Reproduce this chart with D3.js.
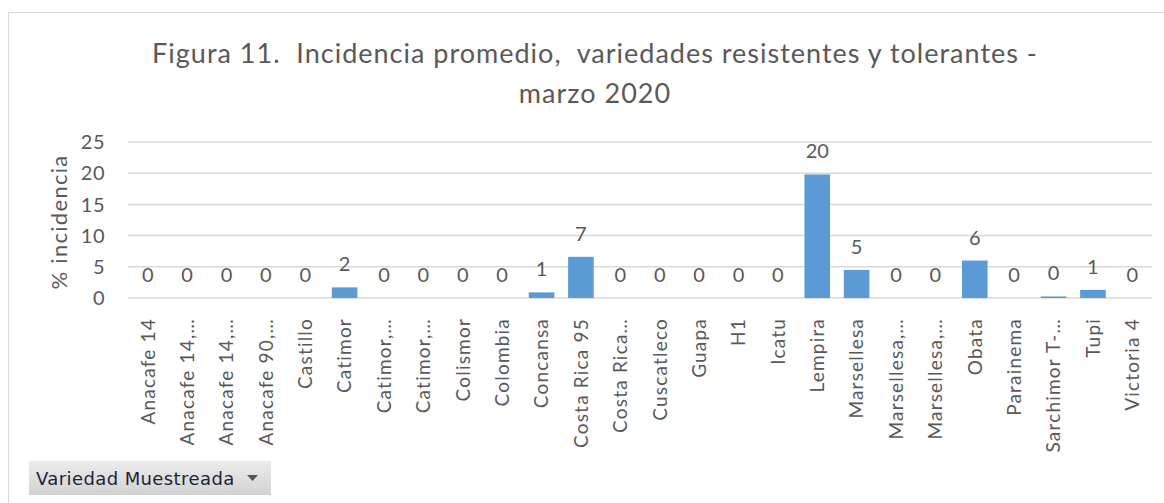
<!DOCTYPE html>
<html>
    <head>
        <style>
            body { margin: 0; background: #fff; }
            svg text { font-family: Lato, "Open Sans", sans-serif; fill: #595959; }
        </style>
    </head>
    <body>
        <svg></svg>

        <script src="https://d3js.org/d3.v7.min.js"></script>

        <script>
            const categories = ["Anacafe 14", "Anacafe 14,\u2026", "Anacafe 14,\u2026", "Anacafe 90,\u2026", "Castillo",
                "Catimor", "Catimor,\u2026", "Catimor,\u2026", "Colismor", "Colombia", "Concansa", "Costa Rica 95",
                "Costa Rica\u2026", "Cuscatleco", "Guapa", "H1", "Icatu", "Lempira", "Marsellesa",
                "Marsellesa,\u2026", "Marsellesa,\u2026", "Obata", "Parainema", "Sarchimor T-\u2026", "Tupi", "Victoria 4"];

            const values = [0, 0, 0, 0, 0, 1.7, 0, 0, 0, 0, 0.9, 6.6,
                0, 0, 0, 0, 0, 19.8, 4.5, 0, 0, 6.0, 0, 0.25, 1.3, 0];

            const yTicks = [0, 5, 10, 15, 20, 25];

            const titleLines = ["Figura 11.  Incidencia promedio,  variedades resistentes y tolerantes -", "marzo 2020"];

            const width = 1164,
                height = 503;

            const svg = d3.select("svg")
                        .attr("width", width)
                        .attr("height", height);

            // chart frame (only top and left edges are visible)
            svg.append("rect")
                .attr("x", 8.5).attr("y", 12.5)
                .attr("width", 1200).attr("height", 600)
                .attr("fill", "none")
                .attr("stroke", "#d9d9d9");

            const x = d3.scaleBand()
                        .domain(d3.range(categories.length))
                        .range([128, 1152])
                        .paddingInner(0.35)
                        .paddingOuter(0.175);

            const y = d3.scaleLinear()
                        .domain([0, 25])
                        .range([298, 142]);

            // gridlines
            svg.append("g")
                .selectAll("line")
                .data(yTicks)
                .enter()
                .append("line")
                .attr("x1", 128).attr("x2", 1152)
                .attr("y1", d => y(d)).attr("y2", d => y(d))
                .attr("stroke", "#d9d9d9")
                .attr("stroke-width", 1.5);

            // y tick labels
            svg.append("g")
                .selectAll("text")
                .data(yTicks)
                .enter()
                .append("text")
                .attr("x", 105)
                .attr("y", d => y(d))
                .attr("dy", "0.36em")
                .attr("text-anchor", "end")
                .style("font-size", "20px")
                .style("letter-spacing", "0.5px")
                .text(d => d);

            // y title
            svg.append("text")
                .attr("transform", "translate(67,222) rotate(-90)")
                .attr("text-anchor", "middle")
                .style("font-size", "22px")
                .style("letter-spacing", "1.3px")
                .text("% incidencia");

            // bars
            svg.append("g")
                .selectAll("rect")
                .data(values)
                .enter()
                .append("rect")
                .attr("x", (d, i) => x(i))
                .attr("y", d => y(d))
                .attr("width", x.bandwidth())
                .attr("height", d => y(0) - y(d))
                .attr("fill", "#5b9bd5");

            // value labels
            svg.append("g")
                .selectAll("text")
                .data(values)
                .enter()
                .append("text")
                .attr("x", (d, i) => x(i) + x.bandwidth() / 2)
                .attr("y", d => y(d) - 16)
                .attr("text-anchor", "middle")
                .style("font-size", "20px")
                .text(d => Math.round(d));

            // category labels
            svg.append("g")
                .selectAll("text")
                .data(categories)
                .enter()
                .append("text")
                .attr("transform", (d, i) => "translate(" + (x(i) + x.bandwidth() / 2) + ",318) rotate(-90)")
                .attr("dy", "0.36em")
                .attr("text-anchor", "end")
                .style("font-size", "19px")
                .style("letter-spacing", "1.2px")
                .text(d => d);

            // title
            svg.append("g")
                .selectAll("text")
                .data(titleLines)
                .enter()
                .append("text")
                .attr("x", 595)
                .attr("y", (d, i) => 63 + i * 40)
                .attr("text-anchor", "middle")
                .attr("xml:space", "preserve")
                .style("white-space", "pre")
                .style("font-size", "27px")
                .style("letter-spacing", "1px")
                .text(d => d);

            // filter button
            const grad = svg.append("defs").append("linearGradient")
                .attr("id", "btn").attr("x1", 0).attr("y1", 0).attr("x2", 0).attr("y2", 1);
            grad.append("stop").attr("offset", "0%").attr("stop-color", "#ececec");
            grad.append("stop").attr("offset", "100%").attr("stop-color", "#d2d2d2");

            const btn = svg.append("g").attr("transform", "translate(29,461)");
            btn.append("rect")
                .attr("width", 242).attr("height", 34)
                .attr("fill", "url(#btn)");
            btn.append("text")
                .attr("x", 7).attr("y", 24)
                .style("font-family", "'DejaVu Sans', 'Liberation Sans', sans-serif")
                .style("font-size", "18px")
                .style("letter-spacing", "0.4px")
                .style("fill", "#1c2540")
                .text("Variedad Muestreada");
            btn.append("path")
                .attr("d", "M218,14 L229,14 L223.5,20 Z")
                .attr("fill", "#555");
        </script>
    </body>
</html>
